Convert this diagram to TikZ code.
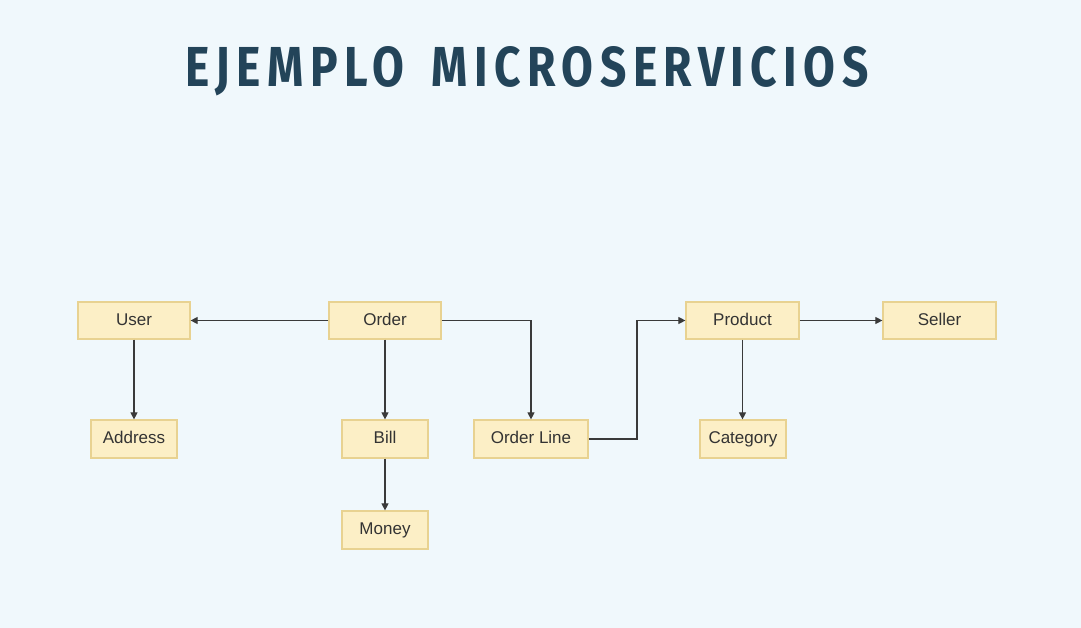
\documentclass[tikz,border=0pt]{standalone}
\usepackage{fontspec}
\setmainfont{Liberation Sans}
\newfontfamily\titlefont[LetterSpace=14]{Fira Sans}
\usetikzlibrary{arrows.meta}
\definecolor{bg}{HTML}{F0F8FC}
\definecolor{boxfill}{HTML}{FCEFC6}
\definecolor{boxline}{HTML}{E8D291}
\definecolor{txt}{HTML}{333333}
\definecolor{titlecol}{HTML}{234459}
\definecolor{arr}{HTML}{3A3A3A}
\tikzset{
  entity/.style={draw=boxline, fill=boxfill, line width=1.2pt, text=txt,
    font=\fontsize{17}{17}\selectfont, inner sep=0pt, anchor=center,
    text height=12.5pt, text depth=3.5pt},
  link/.style={draw=arr, line width=1.1pt, -{Triangle[length=7pt,width=7pt]}}
}
\begin{document}
\begin{tikzpicture}[x=1pt,y=-1pt]
\fill[bg] (0,0) rectangle (1081,628);
\useasboundingbox (0,0) rectangle (1081,628);
\node[text=titlecol, inner sep=0pt] (title) at (527,71)
  {\resizebox{683pt}{40pt}{\titlefont\bfseries EJEMPLO\hspace{0.6em}MICROSERVICIOS}};
\node[entity, minimum width=112pt, minimum height=37pt] (user) at (134,320.5) {User};
\node[entity, minimum width=112pt, minimum height=37pt] (order) at (385,320.5) {Order};
\node[entity, minimum width=113pt, minimum height=37pt] (product) at (742.5,320.5) {Product};
\node[entity, minimum width=113pt, minimum height=37pt] (seller) at (939.5,320.5) {Seller};
\node[entity, minimum width=86pt, minimum height=38pt] (address) at (134,439) {Address};
\node[entity, minimum width=86pt, minimum height=38pt] (bill) at (385,439) {Bill};
\node[entity, minimum width=114pt, minimum height=38pt] (orderline) at (531,439) {Order Line};
\node[entity, minimum width=86pt, minimum height=38pt] (category) at (743,439) {Category};
\node[entity, minimum width=86pt, minimum height=38pt] (money) at (385,530) {Money};
\coordinate (bendA) at (637,439);
\coordinate (bendB) at (637,320.5);
\draw[link] (order.west) -- (user.east);
\draw[link] (user.south) -- (address.north);
\draw[link] (order.south) -- (bill.north);
\draw[link] (bill.south) -- (money.north);
\draw[link] (order.east) -| (orderline.north);
\draw[link] (orderline.east) -- (bendA) -- (bendB) -- (product.west);
\draw[link] (product.east) -- (seller.west);
\draw[link] (product.south) -- (category.north -| product.south);
\end{tikzpicture}
\end{document}
